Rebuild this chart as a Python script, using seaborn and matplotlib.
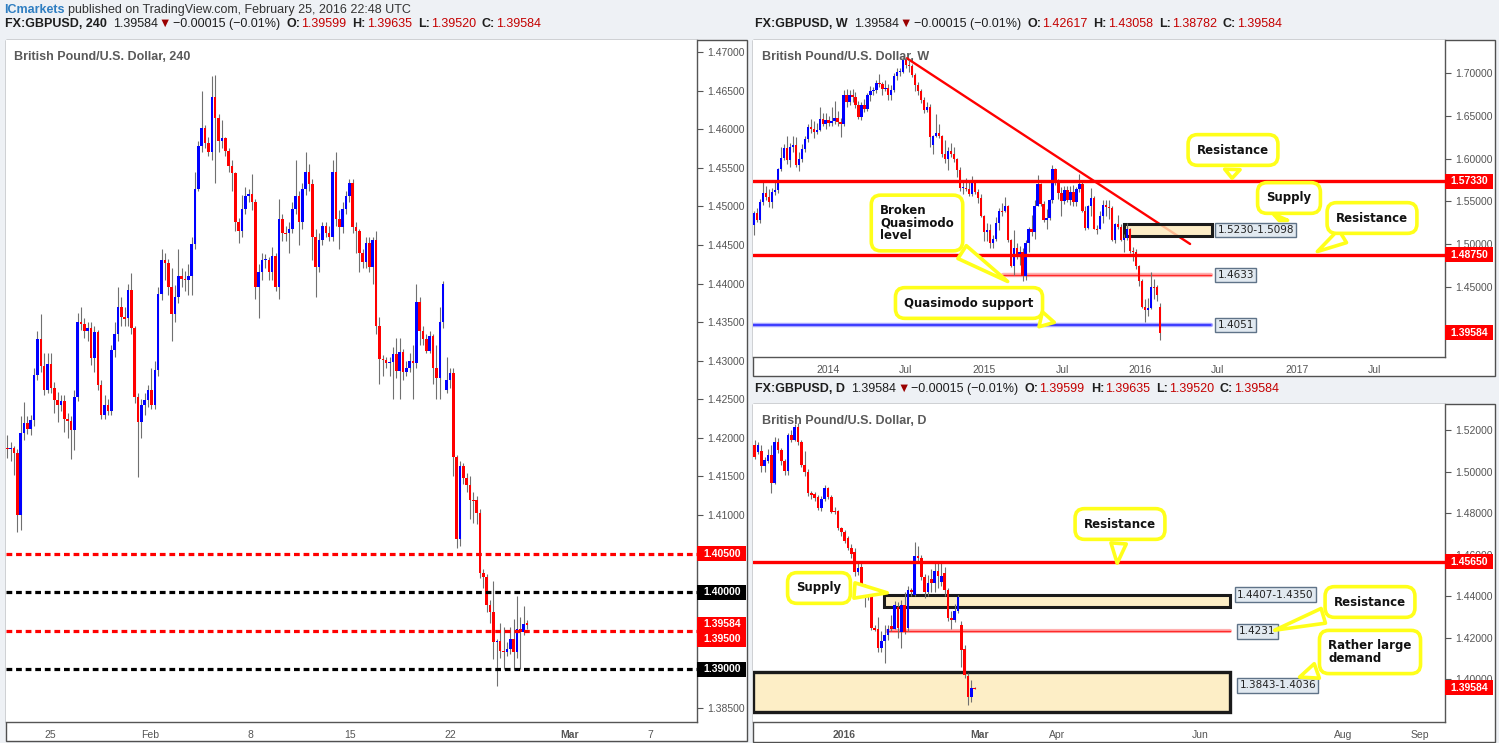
import numpy as np
import matplotlib
matplotlib.use("Agg")
import matplotlib.pyplot as plt
import seaborn as sns
from matplotlib.patches import Rectangle

# ------------------------------------------------------------------ data
# 4-hour candles (GBPUSD, 22 Jan - 25 Feb 2016)
h4_open = [1.4187,1.4186,1.4187,1.4180,1.4100,1.4206,1.4219,1.4212,1.4223,1.4281,
           1.4328,1.4293,1.4262,1.4296,1.4265,1.4249,1.4243,1.4248,1.4225,1.4222,
           1.4210,1.4253,1.4350,1.4348,1.4338,1.4343,1.4303,1.4337,1.4268,1.4230,
           1.4243,1.4235,1.4314,1.4334,1.4370,1.4356,1.4355,1.4392,1.4342,1.4253,
           1.4221,1.4242,1.4249,1.4262,1.4243,1.4288,1.4386,1.4430,1.4426,1.4395,
           1.4360,1.4382,1.4410,1.4406,1.4405,1.4410,1.4451,1.4522,1.4578,1.4602,
           1.4582,1.4570,1.4642,1.4614,1.4585,1.4589,1.4572,1.4552,1.4543,1.4480,
           1.4468,1.4497,1.4513,1.4516,1.4506,1.4396,1.4415,1.4430,1.4431,1.4415,
           1.4436,1.4395,1.4484,1.4466,1.4465,1.4470,1.4497,1.4513,1.4480,1.4522,
           1.4545,1.4529,1.4460,1.4421,1.4457,1.4475,1.4466,1.4460,1.4544,1.4483,
           1.4473,1.4497,1.4513,1.4530,1.4473,1.4468,1.4440,1.4428,1.4453,1.4421,
           1.4456,1.4345,1.4302,1.4301,1.4297,1.4298,1.4309,1.4287,1.4311,1.4286,
           1.4291,1.4299,1.4297,1.4376,1.4338,1.4328,1.4313,1.4332,1.4290,1.4277,
           1.4350,1.4262,1.4275,1.4284,1.4175,1.4069,1.4164,1.4148,1.4139,1.4120,
           1.4119,1.4103,1.4025,1.4020,1.3983,1.3975,1.3935,1.3937,1.3924,1.3923,
           1.3927,1.3939,1.3923,1.3953,1.3949,1.3960]
h4_high = [1.4204,1.4195,1.4190,1.4185,1.4228,1.4247,1.4228,1.4230,1.4290,1.4338,
           1.4361,1.4310,1.4310,1.4310,1.4272,1.4260,1.4255,1.4255,1.4232,1.4228,
           1.4262,1.4362,1.4370,1.4355,1.4350,1.4350,1.4345,1.4340,1.4275,1.4255,
           1.4250,1.4320,1.4350,1.4395,1.4382,1.4370,1.4400,1.4413,1.4345,1.4258,
           1.4250,1.4258,1.4268,1.4290,1.4300,1.4395,1.4445,1.4440,1.4432,1.4420,
           1.4398,1.4445,1.4420,1.4416,1.4425,1.4460,1.4545,1.4585,1.4650,1.4605,
           1.4590,1.4669,1.4670,1.4620,1.4612,1.4590,1.4575,1.4560,1.4545,1.4485,
           1.4515,1.4525,1.4522,1.4542,1.4510,1.4425,1.4440,1.4438,1.4435,1.4447,
           1.4440,1.4510,1.4490,1.4475,1.4480,1.4505,1.4560,1.4520,1.4530,1.4570,
           1.4555,1.4535,1.4470,1.4465,1.4480,1.4480,1.4475,1.4560,1.4570,1.4495,
           1.4505,1.4520,1.4535,1.4535,1.4480,1.4470,1.4445,1.4460,1.4460,1.4460,
           1.4468,1.4357,1.4308,1.4305,1.4305,1.4318,1.4330,1.4330,1.4315,1.4300,
           1.4310,1.4320,1.4400,1.4382,1.4345,1.4335,1.4338,1.4335,1.4320,1.4370,
           1.4403,1.4305,1.4290,1.4290,1.4178,1.4170,1.4168,1.4155,1.4150,1.4130,
           1.4125,1.4108,1.4030,1.4024,1.3990,1.4015,1.3940,1.3960,1.3955,1.3935,
           1.3955,1.3965,1.3995,1.3968,1.3982,1.3964]
h4_low = [1.4174,1.4170,1.4152,1.4078,1.4081,1.4197,1.4205,1.4204,1.4215,1.4275,
          1.4285,1.4255,1.4258,1.4258,1.4232,1.4220,1.4235,1.4208,1.4200,1.4173,
          1.4184,1.4248,1.4340,1.4330,1.4325,1.4295,1.4285,1.4262,1.4225,1.4225,
          1.4230,1.4230,1.4305,1.4325,1.4345,1.4345,1.4345,1.4335,1.4245,1.4149,
          1.4200,1.4230,1.4240,1.4237,1.4238,1.4280,1.4378,1.4405,1.4385,1.4326,
          1.4350,1.4375,1.4395,1.4390,1.4385,1.4385,1.4445,1.4520,1.4570,1.4575,
          1.4565,1.4560,1.4530,1.4570,1.4575,1.4565,1.4545,1.4520,1.4468,1.4452,
          1.4460,1.4490,1.4505,1.4495,1.4380,1.4355,1.4405,1.4420,1.4405,1.4405,
          1.4390,1.4380,1.4455,1.4455,1.4440,1.4465,1.4490,1.4450,1.4470,1.4515,
          1.4520,1.4430,1.4383,1.4415,1.4450,1.4460,1.4455,1.4455,1.4475,1.4445,
          1.4465,1.4490,1.4505,1.4465,1.4440,1.4415,1.4420,1.4420,1.4415,1.4400,
          1.4335,1.4270,1.4280,1.4290,1.4280,1.4250,1.4277,1.4250,1.4275,1.4280,
          1.4285,1.4250,1.4290,1.4320,1.4320,1.4310,1.4310,1.4270,1.4250,1.4250,
          1.4342,1.4258,1.4265,1.4150,1.4057,1.4060,1.4140,1.4130,1.4095,1.4090,
          1.4088,1.4018,1.4005,1.3975,1.3960,1.3913,1.3878,1.3915,1.3900,1.3917,
          1.3920,1.3900,1.3915,1.3900,1.3945,1.3952]
h4_close = [1.4186,1.4187,1.4180,1.4100,1.4206,1.4219,1.4212,1.4223,1.4281,1.4328,
            1.4293,1.4262,1.4296,1.4265,1.4249,1.4243,1.4248,1.4225,1.4222,1.4210,
            1.4253,1.4350,1.4348,1.4338,1.4343,1.4303,1.4337,1.4268,1.4230,1.4243,
            1.4235,1.4314,1.4334,1.4370,1.4356,1.4355,1.4392,1.4342,1.4253,1.4221,
            1.4242,1.4249,1.4262,1.4243,1.4288,1.4386,1.4430,1.4426,1.4395,1.4360,
            1.4382,1.4410,1.4406,1.4405,1.4410,1.4451,1.4522,1.4578,1.4602,1.4582,
            1.4570,1.4642,1.4614,1.4585,1.4589,1.4572,1.4552,1.4543,1.4480,1.4468,
            1.4497,1.4513,1.4516,1.4506,1.4396,1.4415,1.4430,1.4431,1.4415,1.4436,
            1.4395,1.4484,1.4466,1.4465,1.4470,1.4497,1.4513,1.4480,1.4522,1.4545,
            1.4529,1.4460,1.4421,1.4457,1.4475,1.4466,1.4460,1.4544,1.4483,1.4473,
            1.4497,1.4513,1.4530,1.4473,1.4468,1.4440,1.4428,1.4453,1.4421,1.4456,
            1.4345,1.4302,1.4301,1.4297,1.4298,1.4309,1.4287,1.4311,1.4286,1.4291,
            1.4299,1.4297,1.4376,1.4338,1.4328,1.4313,1.4332,1.4290,1.4277,1.4350,
            1.4399,1.4275,1.4284,1.4175,1.4069,1.4164,1.4148,1.4139,1.4120,1.4119,
            1.4103,1.4025,1.4020,1.3983,1.3975,1.3935,1.3937,1.3924,1.3923,1.3927,
            1.3939,1.3923,1.3953,1.3949,1.3959,1.3958]
h4_levels_red = [1.4050, 1.3950]
h4_levels_black = [1.4000, 1.3900]
h4_xtick_labels = ["25", "Feb", "8", "15", "22", "Mar", "7"]
h4_ytick_values = [1.385, 1.390, 1.395, 1.400, 1.405, 1.410, 1.415, 1.420, 1.425,
                   1.430, 1.435, 1.440, 1.445, 1.450, 1.455, 1.460, 1.465, 1.470]

# weekly candles (Jul 2013 - Feb 2016)
wk_open = [1.5222,1.5358,1.5280,1.5495,1.5600,1.5553,1.5495,1.5612,1.5632,1.5874,
           1.6003,1.6128,1.5980,1.6140,1.6160,1.5930,1.6000,1.6110,1.6230,1.6370,
           1.6350,1.6310,1.6340,1.6460,1.6400,1.6450,1.6420,1.6440,1.6470,1.6430,
           1.6400,1.6740,1.6660,1.6750,1.6720,1.6630,1.6490,1.6630,1.6580,1.6740,
           1.6790,1.6800,1.6890,1.6870,1.6820,1.6830,1.6740,1.6800,1.6970,1.7010,
           1.7020,1.7150,1.7100,1.7080,1.6980,1.6860,1.6790,1.6690,1.6570,1.6600,
           1.6160,1.6260,1.6300,1.6260,1.6050,1.6000,1.6090,1.6050,1.5990,1.5866,
           1.5650,1.5660,1.5640,1.5590,1.5710,1.5612,1.5534,1.5330,1.5140,1.5160,
           1.5010,1.5060,1.5240,1.5390,1.5390,1.5440,1.5040,1.4740,1.4950,1.4860,
           1.4900,1.4620,1.5010,1.5180,1.5140,1.5440,1.5700,1.5470,1.5280,1.5300,
           1.5510,1.5880,1.5740,1.5600,1.5500,1.5630,1.5510,1.5610,1.5490,1.5640,
           1.5700,1.5390,1.5190,1.5440,1.5540,1.5180,1.5180,1.5330,1.5460,1.5430,
           1.5420,1.5040,1.5230,1.5200,1.5040,1.5070,1.5180,1.4920,1.4900,1.4740,
           1.4570,1.4260,1.4230,1.4250,1.4500,1.4500,1.4262]
wk_high = [1.5380,1.5420,1.5530,1.5720,1.5680,1.5640,1.5650,1.5720,1.5890,1.6130,
           1.6170,1.6260,1.6180,1.6260,1.6250,1.6080,1.6170,1.6260,1.6400,1.6460,
           1.6440,1.6420,1.6600,1.6540,1.6530,1.6500,1.6600,1.6670,1.6560,1.6480,
           1.6800,1.6820,1.6800,1.6820,1.6780,1.6680,1.6660,1.6700,1.6770,1.6850,
           1.6840,1.6920,1.6995,1.6900,1.6920,1.6880,1.6860,1.7000,1.7060,1.7060,
           1.7190,1.7180,1.7160,1.7110,1.7000,1.6900,1.6820,1.6720,1.6660,1.6640,
           1.6280,1.6520,1.6400,1.6280,1.6220,1.6140,1.6180,1.6130,1.6010,1.5900,
           1.5730,1.5770,1.5720,1.5790,1.5720,1.5640,1.5590,1.5340,1.5250,1.5230,
           1.5100,1.5310,1.5420,1.5480,1.5550,1.5460,1.5060,1.5160,1.5010,1.4980,
           1.4950,1.5040,1.5200,1.5340,1.5510,1.5810,1.5710,1.5500,1.5410,1.5530,
           1.5930,1.5890,1.5760,1.5670,1.5680,1.5680,1.5680,1.5690,1.5670,1.5820,
           1.5730,1.5440,1.5460,1.5660,1.5560,1.5220,1.5380,1.5510,1.5510,1.5510,
           1.5440,1.5240,1.5340,1.5230,1.5110,1.5240,1.5190,1.4960,1.4940,1.4750,
           1.4590,1.4350,1.4360,1.4670,1.4590,1.4520,1.4306]
wk_low = [1.5100,1.5260,1.5250,1.5460,1.5520,1.5430,1.5420,1.5575,1.5600,1.5850,
          1.5980,1.5940,1.5900,1.6080,1.5900,1.5860,1.5960,1.6080,1.6200,1.6300,
          1.6240,1.6290,1.6320,1.6380,1.6350,1.6380,1.6380,1.6400,1.6380,1.6250,
          1.6380,1.6600,1.6630,1.6660,1.6590,1.6460,1.6450,1.6550,1.6560,1.6680,
          1.6740,1.6770,1.6840,1.6740,1.6790,1.6690,1.6690,1.6780,1.6920,1.6970,
          1.7000,1.7060,1.7010,1.6960,1.6790,1.6750,1.6650,1.6540,1.6550,1.6130,
          1.6050,1.6250,1.6240,1.6020,1.5950,1.5870,1.6020,1.5960,1.5780,1.5620,
          1.5590,1.5620,1.5560,1.5560,1.5580,1.5480,1.5320,1.5030,1.5030,1.4950,
          1.4950,1.5030,1.5160,1.5330,1.5370,1.5020,1.4730,1.4630,1.4820,1.4750,
          1.4565,1.4580,1.4900,1.5090,1.5060,1.5440,1.5440,1.5260,1.5170,1.5280,
          1.5480,1.5690,1.5530,1.5330,1.5470,1.5490,1.5450,1.5440,1.5440,1.5610,
          1.5370,1.5160,1.5180,1.5330,1.5170,1.5110,1.5170,1.5250,1.5330,1.5290,
          1.5030,1.5010,1.5170,1.5030,1.4900,1.5040,1.4890,1.4800,1.4710,1.4510,
          1.4250,1.4080,1.4160,1.4240,1.4350,1.4330,1.3878]
wk_close = [1.5358,1.5280,1.5495,1.5600,1.5553,1.5495,1.5612,1.5632,1.5874,1.6003,
            1.6128,1.5980,1.6140,1.6160,1.5930,1.6000,1.6110,1.6230,1.6370,1.6350,
            1.6310,1.6340,1.6460,1.6400,1.6450,1.6420,1.6440,1.6470,1.6430,1.6400,
            1.6740,1.6660,1.6750,1.6720,1.6630,1.6490,1.6630,1.6580,1.6740,1.6790,
            1.6800,1.6890,1.6870,1.6820,1.6830,1.6740,1.6800,1.6970,1.7010,1.7020,
            1.7150,1.7100,1.7080,1.6980,1.6860,1.6790,1.6690,1.6570,1.6600,1.6250,
            1.6260,1.6300,1.6260,1.6050,1.6000,1.6090,1.6050,1.5990,1.5866,1.5650,
            1.5660,1.5640,1.5590,1.5710,1.5612,1.5534,1.5330,1.5140,1.5160,1.5010,
            1.5060,1.5240,1.5390,1.5390,1.5440,1.5040,1.4740,1.4950,1.4860,1.4900,
            1.4620,1.5010,1.5180,1.5140,1.5440,1.5700,1.5470,1.5280,1.5300,1.5510,
            1.5880,1.5740,1.5600,1.5500,1.5630,1.5510,1.5610,1.5490,1.5640,1.5700,
            1.5390,1.5190,1.5440,1.5540,1.5180,1.5180,1.5330,1.5460,1.5430,1.5420,
            1.5040,1.5230,1.5200,1.5040,1.5070,1.5180,1.4920,1.4900,1.4740,1.4570,
            1.4260,1.4230,1.4250,1.4500,1.4500,1.4400,1.3958]
wk_resistance = [1.5733, 1.4875]
wk_broken_qm = 1.4633
wk_qm_support = 1.4051
wk_supply = (1.5098, 1.5230)
wk_trend_price = [1.7176, 1.4999]
wk_xtick_labels = ["2014", "Jul", "2015", "Jul", "2016", "Jul", "2017", "Jul"]
wk_ytick_values = [1.40, 1.45, 1.50, 1.55, 1.60, 1.65, 1.70]

# daily candles (late Nov 2015 - 26 Feb 2016)
d_open = [1.5128,1.5096,1.5099,1.5027,1.5051,1.5080,1.4946,1.5144,1.5104,1.5051,
          1.5003,1.5176,1.5152,1.5216,1.5144,1.5032,1.5000,1.4895,1.4890,1.4879,
          1.4823,1.4868,1.4919,1.4879,1.4810,1.4810,1.4730,1.4711,1.4679,1.4630,
          1.4614,1.4518,1.4542,1.4446,1.4406,1.4409,1.4245,1.4242,1.4152,1.4184,
          1.4213,1.4258,1.4242,1.4349,1.4229,1.4358,1.4245,1.4430,1.4406,1.4595,
          1.4585,1.4494,1.4422,1.4483,1.4462,1.4521,1.4470,1.4510,1.4430,1.4293,
          1.4285,1.4329,1.4261,1.4146,1.4017,1.3916,1.39599]
d_high = [1.5150,1.5140,1.5130,1.5070,1.5110,1.5130,1.5165,1.5160,1.5115,1.5060,
          1.5185,1.5200,1.5230,1.5232,1.5150,1.5100,1.5010,1.4905,1.4900,1.4885,
          1.4880,1.4935,1.4925,1.4885,1.4830,1.4815,1.4735,1.4720,1.4690,1.4650,
          1.4630,1.4560,1.4565,1.4460,1.4430,1.4415,1.4260,1.4300,1.4230,1.4260,
          1.4260,1.4310,1.4375,1.4370,1.4380,1.4420,1.4450,1.4440,1.4662,1.4640,
          1.4600,1.4505,1.4500,1.4530,1.4560,1.4570,1.4570,1.4540,1.4440,1.4330,
          1.4360,1.4405,1.4280,1.4165,1.4030,1.3995,1.39635]
d_low = [1.5060,1.5085,1.5000,1.5000,1.5040,1.4895,1.4940,1.5090,1.5030,1.4985,
         1.4985,1.5140,1.5145,1.5130,1.5020,1.4980,1.4880,1.4870,1.4860,1.4815,
         1.4810,1.4860,1.4870,1.4800,1.4795,1.4720,1.4690,1.4655,1.4620,1.4585,
         1.4495,1.4500,1.4400,1.4350,1.4380,1.4235,1.4230,1.4132,1.4130,1.4080,
         1.4190,1.4230,1.4240,1.4200,1.4150,1.4220,1.4230,1.4400,1.4400,1.4570,
         1.4480,1.4390,1.4400,1.4420,1.4420,1.4440,1.4450,1.4400,1.4280,1.4240,
         1.4275,1.4320,1.4059,1.4005,1.3878,1.3890,1.39520]
d_close = [1.5072,1.5128,1.5027,1.5056,1.5080,1.4946,1.5144,1.5104,1.5051,1.5003,
           1.5176,1.5152,1.5216,1.5144,1.5032,1.5000,1.4895,1.4887,1.4874,1.4826,
           1.4868,1.4919,1.4879,1.4807,1.4807,1.4730,1.4707,1.4666,1.4630,1.4601,
           1.4518,1.4534,1.4446,1.4406,1.4402,1.4248,1.4237,1.4152,1.4184,1.4213,
           1.4242,1.4242,1.4358,1.4245,1.4358,1.4229,1.4430,1.4422,1.4595,1.4585,
           1.4494,1.4422,1.4462,1.4462,1.4521,1.4499,1.4499,1.4430,1.4293,1.4285,
           1.4329,1.4398,1.4141,1.4020,1.3916,1.3959,1.39584]
d_resistance = 1.4565
d_resistance_minor = 1.4231
d_supply = (1.4350, 1.4407)
d_demand = (1.3843, 1.4036)
d_xtick_labels = ["2016", "Mar", "Apr", "Jun", "Aug", "Sep"]
d_ytick_values = [1.40, 1.42, 1.44, 1.46, 1.48, 1.50, 1.52]

last_price = 1.39584

# ------------------------------------------------------------------ style
sns.set_theme(style="white")
plt.rcParams['font.family'] = ['Liberation Sans', 'DejaVu Sans']
plt.rcParams['axes.unicode_minus'] = True

W, H = 1499, 743
fig = plt.figure(figsize=(W / 100, H / 100), dpi=100)
fig.patch.set_facecolor('#eef1f5')
renderer = fig.canvas.get_renderer()

UP, DOWN, WICK = '#0000ff', '#ff0000', '#707070'
AXC = '#555555'
DARK = '#1e1e1e'
VALC = '#c40000'


def panel(frame, plot):
    fx0, fy0, fx1, fy1 = frame
    fig.add_artist(Rectangle((fx0 / W, 1 - fy1 / H), (fx1 - fx0) / W, (fy1 - fy0) / H,
                             transform=fig.transFigure, fc='white', ec='#505050',
                             lw=1.0, zorder=-5))
    x0, y0, x1, y1 = plot
    ax = fig.add_axes([x0 / W, 1 - y1 / H, (x1 - x0) / W, (y1 - y0) / H])
    ax.set_facecolor('white')
    for s in ['left', 'top']:
        ax.spines[s].set_visible(False)
    for s in ['right', 'bottom']:
        ax.spines[s].set_visible(True)
        ax.spines[s].set_color(AXC)
        ax.spines[s].set_linewidth(1.0)
    ax.yaxis.tick_right()
    ax.tick_params(axis='both', direction='out', length=4, width=0.8, color=AXC,
                   labelcolor=AXC, labelsize=7.5)
    ax.tick_params(axis='y', pad=3)
    ax.tick_params(axis='x', pad=2)
    ax.grid(False)
    ax.set_xlabel('')
    ax.set_ylabel('')
    return ax


def draw_candles(ax, o, h, l, c, width, min_body):
    o, h, l, c = map(np.asarray, (o, h, l, c))
    x = np.arange(len(o))
    ax.vlines(x, l, h, colors=WICK, linewidth=0.8, zorder=3)
    body = c - o
    small = np.abs(body) < min_body
    body = np.where(small, np.where(body > 0, min_body, -min_body), body)
    up = c > o
    ax.bar(x[up], body[up], bottom=o[up], width=width, color=UP, linewidth=0, zorder=4)
    ax.bar(x[~up], body[~up], bottom=o[~up], width=width, color=DOWN, linewidth=0, zorder=4)


def hline(ax, y, x0, x1, color, lw, ls='-', z=2):
    sns.lineplot(x=[x0, x1], y=[y, y], ax=ax, color=color, linewidth=lw,
                 linestyle=ls, zorder=z, legend=False, errorbar=None)


def py(ax, price):
    return H - ax.transData.transform((ax.get_xlim()[0], price))[1]


def tag_box(ax, ytop, ybot, color, x1):
    xa = ax.transAxes.transform((1, 0))[0]
    fig.add_artist(Rectangle((xa / W, 1 - ybot / H), (x1 - xa) / W, (ybot - ytop) / H,
                             transform=fig.transFigure, fc=color, ec='none', zorder=6))


def tag_text(ax, yc, text, x1):
    xa = ax.transAxes.transform((1, 0))[0]
    fig.text((xa + x1) / 2 / W + 0.6 / W, 1 - yc / H, text, color='white', fontsize=7.5,
             fontweight='bold', ha='center', va='center', zorder=7)


def tag(ax, price, text, color, x1, h=15):
    yc = py(ax, price)
    tag_box(ax, yc - h / 2, yc + h / 2, color, x1)
    tag_text(ax, yc, text, x1)


def rich(x, y, segs, size=9):
    for txt, col, wt, gap in segs:
        t = fig.text(x / W, 1 - y / H, txt, color=col, fontsize=size, fontweight=wt,
                     ha='left', va='center')
        x += t.get_window_extent(renderer=renderer).width + gap


def callout(ax, text, center, tip, size=8.5):
    ax.annotate(text, xy=(tip[0], H - tip[1]), xycoords='figure pixels',
                xytext=(center[0], H - center[1]), textcoords='figure pixels',
                ha='center', va='center', fontsize=size, fontweight='bold',
                family='DejaVu Sans', color='#111111', multialignment='left',
                linespacing=0.95, annotation_clip=False, zorder=12,
                bbox=dict(boxstyle='round,pad=0.75,rounding_size=0.8', fc='white',
                          ec='#ffff1a', lw=2.6),
                arrowprops=dict(arrowstyle='wedge,tail_width=1.3,shrink_factor=0.5',
                                fc='white', ec='#ffff1a', lw=2.6))


def value_label(ax, x, price, text):
    ax.text(x, price, text, fontsize=7.5, family='DejaVu Sans', color='#222222',
            ha='left', va='center', zorder=9, clip_on=False,
            bbox=dict(boxstyle='square,pad=0.22', fc='#e1e9f0', ec='#5f7388', lw=1.0))


def title(ax, x, y, text):
    ax.text(x / W, 1 - y / H, text, transform=fig.transFigure, fontsize=9,
            fontweight='bold', color='#5a5a5a', ha='left', va='center', zorder=1)


def ytick_labels(values, covered):
    # tick labels hidden behind the coloured price tags are left blank
    return ["" if any(abs(v - c) < 1e-9 for c in covered) else f"{v:.5f}" for v in values]


# ------------------------------------------------------------------ headers
rich(4, 10, [("ICmarkets", '#2f7ec1', 'bold', 3),
             ("published on TradingView.com, February 25, 2016 22:48 UTC", '#333333', 'normal', 0)])


def quote_header(x, y, tf, o, h, l, c):
    rich(x, y, [("FX:GBPUSD, " + tf, DARK, 'bold', 6),
                ("1.39584", DARK, 'normal', 1),
                ("\u25BC", '#9b0000', 'normal', 2),
                ("\u22120.00015 (\u22120.01%)", DARK, 'normal', 6),
                ("O:", DARK, 'bold', 1), (o, VALC, 'normal', 6),
                ("H:", DARK, 'bold', 1), (h, VALC, 'normal', 6),
                ("L:", DARK, 'bold', 1), (l, VALC, 'normal', 6),
                ("C:", DARK, 'bold', 1), (c, VALC, 'normal', 0)])


quote_header(5, 24, "240", "1.39599", "1.39635", "1.39520", "1.39584")
quote_header(755, 24, "W", "1.42617", "1.43058", "1.38782", "1.39584")
quote_header(755, 389, "D", "1.39599", "1.39635", "1.39520", "1.39584")

# ------------------------------------------------------------------ 4h panel
ax4 = panel((5.5, 40, 746.5, 741), (6, 40, 697, 722))
draw_candles(ax4, h4_open, h4_high, h4_low, h4_close, 0.78, 0.00015)
x4min, x4max = -0.39, 205.7
for lv in h4_levels_red:
    hline(ax4, lv, x4min, x4max, '#ff0000', 2.3, (0, (1.8, 1.2)), 5)
for lv in h4_levels_black:
    hline(ax4, lv, x4min, x4max, '#000000', 2.3, (0, (1.8, 1.2)), 5)
ax4.set_xlim(x4min, x4max)
ax4.set_ylim(1.38319, 1.47155)
ax4.set_yticks(h4_ytick_values)
ax4.set_yticklabels(ytick_labels(h4_ytick_values, h4_levels_red + h4_levels_black))
ax4.set_xticks([12.73, 42.55, 72.37, 102.2, 132.0, 167.8, 191.7])
ax4.set_xticklabels(h4_xtick_labels)
for lbl in ax4.get_xticklabels():
    if lbl.get_text() == "Mar":
        lbl.set_fontweight('bold')
title(ax4, 14, 57, "British Pound/U.S. Dollar, 240")

tag(ax4, 1.4050, "1.40500", '#ff0000', 745.5)
tag(ax4, 1.4000, "1.40000", '#000000', 745.5)
tag(ax4, 1.3900, "1.39000", '#000000', 745.5)
y_last = py(ax4, last_price)
tag_box(ax4, y_last - 7.5, y_last + 23, '#ff0000', 745.5)
tag_text(ax4, y_last, "1.39584", 745.5)
tag_text(ax4, y_last + 15, "1.39500", 745.5)

# ------------------------------------------------------------------ weekly panel
axw = panel((752.5, 40, 1495, 376), (753, 40, 1445, 357))
wxmin, wxmax = -0.34, 231.5
sns.lineplot(x=[51.2, 146.1], y=wk_trend_price, ax=axw, color='#ff0000', linewidth=1.7,
             zorder=2, legend=False, errorbar=None)
for lv in wk_resistance:
    hline(axw, lv, wxmin, wxmax, '#ff0000', 2.4, '-', 5)
hline(axw, wk_broken_qm, 83.4, 153.1, '#ffb0b0', 3.2, '-', 2)
hline(axw, wk_broken_qm, 83.4, 153.1, '#ff2a2a', 1.0, '-', 2)
hline(axw, wk_qm_support, wxmin, 153.1, '#a8a8ff', 3.2, '-', 2)
hline(axw, wk_qm_support, wxmin, 153.1, '#1f1fff', 1.1, '-', 2)
axw.add_patch(Rectangle((124.0, wk_supply[0]), 153.4 - 124.0, wk_supply[1] - wk_supply[0],
                        fc=(0.99, 0.91, 0.72, 0.8), ec='#1a1a1a', lw=2.2, zorder=3))
draw_candles(axw, wk_open, wk_high, wk_low, wk_close, 0.78, 0.0012)
axw.set_xlim(wxmin, wxmax)
axw.set_ylim(1.3674, 1.7390)
axw.set_yticks(wk_ytick_values)
axw.set_yticklabels(ytick_labels(wk_ytick_values, [1.40]))
axw.set_xticks([24.8, 50.9, 77.05, 103.2, 129.3, 155.4, 181.9, 208.0])
axw.set_xticklabels(wk_xtick_labels)
title(axw, 762, 57, "British Pound/U.S. Dollar, W")
value_label(axw, 155.3, wk_broken_qm, "1.4633")
value_label(axw, 155.3, wk_qm_support, "1.4051")
value_label(axw, 155.3, (wk_supply[0] + wk_supply[1]) / 2, "1.5230-1.5098")
tag(axw, wk_resistance[0], "1.57330", '#ff0000', 1493)
tag(axw, wk_resistance[1], "1.48750", '#ff0000', 1493)
tag(axw, last_price, "1.39584", '#ff0000', 1493)
callout(axw, "Resistance", (1233, 150), (1232, 181))
callout(axw, "Supply", (1289, 198), (1278, 223))
callout(axw, "Resistance", (1372, 218), (1315, 253))
callout(axw, "Broken\nQuasimodo\nlevel", (917, 223), (1010, 283))
callout(axw, "Quasimodo support", (969, 303), (1057, 323))

# ------------------------------------------------------------------ daily panel
axd = panel((752.5, 404, 1495, 741.5), (753, 404, 1445, 722))
dxmin, dxmax = -0.54, 207.3
hline(axd, d_resistance, dxmin, dxmax, '#ff0000', 2.4, '-', 5)
hline(axd, d_resistance_minor, 39.7, 142.7, '#ffb0b0', 3.0, '-', 2)
hline(axd, d_resistance_minor, 39.7, 142.7, '#ff2a2a', 1.0, '-', 2)
axd.add_patch(Rectangle((38.8, d_supply[0]), 142.7 - 38.8, d_supply[1] - d_supply[0],
                        fc='#fdeec6', ec='#1a1a1a', lw=2.2, zorder=2))
axd.add_patch(Rectangle((dxmin, d_demand[0]), 142.7 - dxmin, d_demand[1] - d_demand[0],
                        fc='#fdeec6', ec='#1a1a1a', lw=2.4, zorder=2))
draw_candles(axd, d_open, d_high, d_low, d_close, 0.8, 0.0005)
axd.set_xlim(dxmin, dxmax)
axd.set_ylim(1.3794, 1.5325)
axd.set_yticks(d_ytick_values)
axd.set_yticklabels(ytick_labels(d_ytick_values, []))
axd.set_xticks([26.8, 67.6, 90.7, 133.7, 176.6, 199.8])
axd.set_xticklabels(d_xtick_labels)
for lbl in axd.get_xticklabels():
    if lbl.get_text() in ("2016", "Mar"):
        lbl.set_fontweight('bold')
title(axd, 762, 421, "British Pound/U.S. Dollar, D")
value_label(axd, 144.8, d_supply[1], "1.4407-1.4350")
value_label(axd, 145.4, d_resistance_minor, "1.4231")
value_label(axd, 145.6, 1.3970, "1.3843-1.4036")
tag(axd, d_resistance, "1.45650", '#ff0000', 1493)
tag(axd, last_price, "1.39584", '#ff0000', 1493)
callout(axd, "Resistance", (1120, 524), (1117, 566))
callout(axd, "Supply", (819, 588), (890, 593))
callout(axd, "Resistance", (1370, 602), (1272, 631))
callout(axd, "Rather large\ndemand", (1370, 652), (1297, 678))

fig.savefig("out.png", dpi=100, facecolor=fig.get_facecolor())
